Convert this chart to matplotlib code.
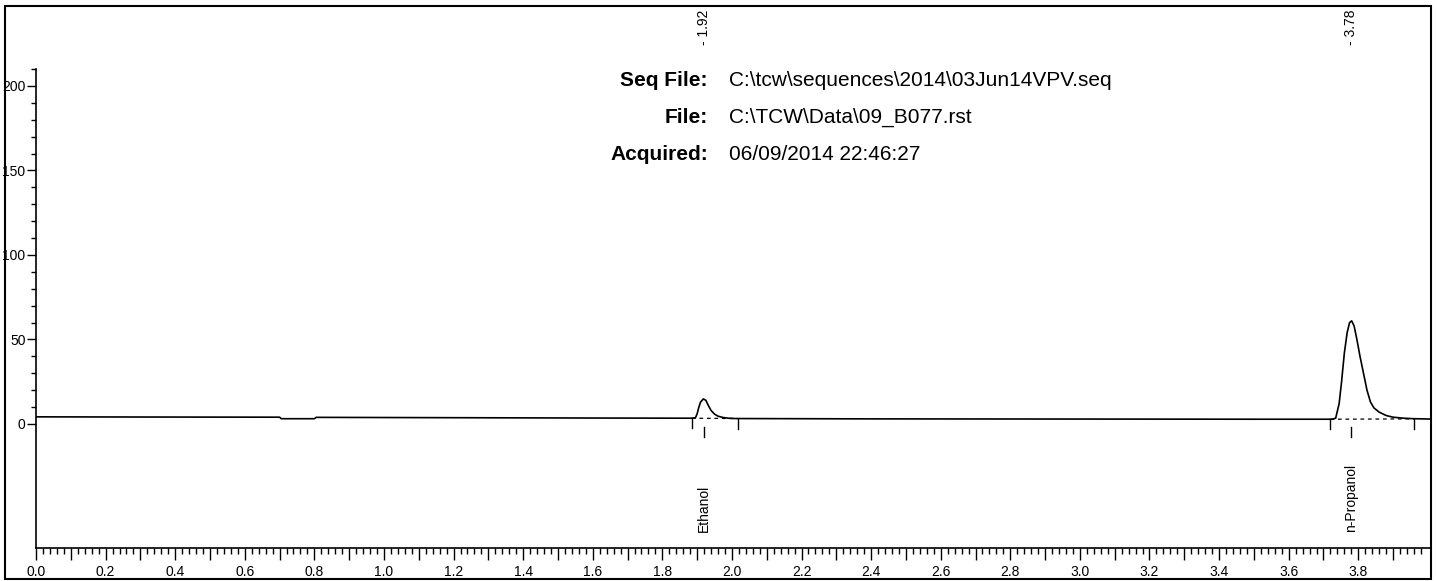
import matplotlib
matplotlib.use("Agg")
import matplotlib.pyplot as plt
from matplotlib.patches import Rectangle
from matplotlib.ticker import FixedLocator, FuncFormatter
import numpy as np

plt.rcParams['font.family'] = ['Liberation Sans', 'DejaVu Sans']

# detector trace: retention time (min) vs signal (mV)
time = [0.00, 0.30, 0.70, 0.705, 0.80, 0.805, 1.20, 1.60, 1.885,
        1.895, 1.900, 1.905, 1.910, 1.918, 1.925, 1.932, 1.940, 1.950,
        1.960, 1.975, 1.990, 2.010,
        2.40, 3.00, 3.50, 3.725,
        3.735, 3.745, 3.752, 3.760, 3.768, 3.775, 3.781, 3.788, 3.796,
        3.805, 3.815, 3.825, 3.835, 3.845, 3.860, 3.880, 3.900, 3.930,
        3.960, 4.01]
signal = [4.2, 4.1, 4.0, 3.1, 3.1, 3.9, 3.7, 3.5, 3.4,
          3.6, 6.0, 10.0, 13.0, 14.8, 14.0, 11.0, 8.0, 5.8,
          4.6, 3.8, 3.4, 3.2,
          3.0, 2.9, 2.8, 2.8,
          3.4, 12.0, 25.0, 42.0, 54.0, 60.0, 61.0, 58.0, 50.0,
          40.0, 30.0, 20.0, 13.0, 9.5, 7.0, 5.0, 4.0, 3.4,
          3.1, 2.9]

# integrated peaks
peak_names = ['Ethanol', 'n-Propanol']
peak_rt = [1.92, 3.78]
peak_start = [1.885, 3.72]
peak_end = [2.017, 3.96]
base_start = [3.4, 2.8]
base_end = [3.2, 3.0]

header_keys = ['Seq File:', 'File:', 'Acquired:']
header_vals = ['C:\\tcw\\sequences\\2014\\03Jun14VPV.seq',
               'C:\\TCW\\Data\\09_B077.rst',
               '06/09/2014 22:46:27']

W, H = 1437, 581
fig = plt.figure(figsize=(W / 100, H / 100), dpi=100)
ax = fig.add_axes([36 / W, 1 - 548 / H, (1431 - 36) / W, (548 - 6) / H])

ax.plot(time, signal, color='black', lw=1.2)

for name, rt, t0, t1, b0, b1 in zip(peak_names, peak_rt, peak_start, peak_end,
                                    base_start, base_end):
    ax.plot([t0, t1], [b0, b1], color='black', lw=0.9, ls=(0, (3, 3)))
    ax.plot([t0, t0], [b0, b0 - 6], color='black', lw=1)
    ax.plot([t1, t1], [b1, b1 - 6], color='black', lw=1)
    ax.plot([rt, rt], [-2, -7.5], color='black', lw=1)
    ax.text(rt, 245, '- %.2f' % rt, rotation=90, ha='center', va='top',
            fontsize=10)
    ax.text(rt, -64, name, rotation=90, ha='center', va='bottom',
            fontsize=10)

ax.set_xlim(0, 4.009)
ax.set_ylim(-73.4, 247.3)

for s in ['top', 'right']:
    ax.spines[s].set_visible(False)
ax.spines['left'].set_bounds(-73.4, 210)
ax.spines['left'].set_linewidth(1.2)
ax.spines['bottom'].set_linewidth(1.2)

ax.yaxis.set_major_locator(FixedLocator([0, 50, 100, 150, 200]))
ax.yaxis.set_minor_locator(FixedLocator([v for v in range(10, 211, 10) if v % 50]))
ax.xaxis.set_major_locator(FixedLocator(np.arange(40) / 10))
ax.xaxis.set_minor_locator(FixedLocator([i / 50 for i in range(200) if i % 5]))
ax.xaxis.set_major_formatter(FuncFormatter(
    lambda v, p: '%.1f' % v if round(v * 10) % 2 == 0 else ''))

ax.tick_params(axis='y', which='major', direction='out', length=6.5, width=1,
               pad=1, labelsize=10)
ax.tick_params(axis='y', which='minor', direction='out', length=3.6, width=1)
ax.tick_params(axis='x', which='major', direction='out', length=8.5, width=1,
               pad=4, labelsize=10)
ax.tick_params(axis='x', which='minor', direction='out', length=4.5, width=1)

# run information block
for i, (k, v) in enumerate(zip(header_keys, header_vals)):
    y = 1 - (86 + 37 * i) / H
    fig.text(708 / W, y, k, ha='right', va='baseline', fontsize=15,
             fontweight='bold')
    fig.text(729 / W, y, v, ha='left', va='baseline', fontsize=15)

# outer frame
fig.add_artist(Rectangle((5 / W, 1 - 579 / H), (1431 - 5) / W, (579 - 6) / H,
                         transform=fig.transFigure, fill=False,
                         edgecolor='black', lw=1.5))

fig.savefig('out.png', dpi=100)
